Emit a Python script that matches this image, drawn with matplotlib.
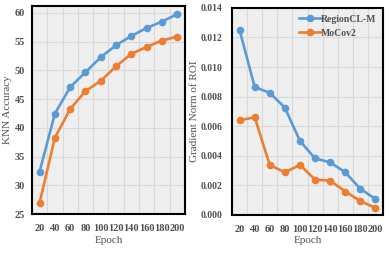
import matplotlib.pyplot as plt
import numpy as np

plt.rcParams['font.family'] = ['Liberation Serif', 'DejaVu Serif']
plt.rcParams['font.weight'] = 'bold'

epochs = ["20", "40", "60", "80", "100", "120", "140", "160", "180", "200"]

knn_regioncl = [32.4, 42.5, 47.1, 49.7, 52.3, 54.4, 56.0, 57.4, 58.5, 59.8]
knn_mocov2 = [27.0, 38.3, 43.3, 46.4, 48.2, 50.7, 52.9, 54.1, 55.2, 55.9]

grad_regioncl = [0.0125, 0.00865, 0.00825, 0.00725, 0.0050, 0.00382, 0.00355, 0.00288, 0.00176, 0.00108]
grad_mocov2 = [0.0064, 0.0066, 0.00337, 0.00288, 0.00338, 0.00238, 0.00232, 0.00158, 0.00093, 0.00047]

blue = "#5B9BD5"
orange = "#ED7D31"
txt = "#505050"
fs = 7.5

fig = plt.figure(figsize=(3.9, 2.54), dpi=100)
ax1 = fig.add_axes([0.082, 0.157, 0.392, 0.819])
ax2 = fig.add_axes([0.595, 0.154, 0.387, 0.815])

x = np.arange(len(epochs))


def style(ax, ypad):
    ax.set_facecolor("#EFEFEF")
    ax.set_xlim(-0.5, len(epochs) - 0.5)
    ax.set_xticks(x)
    ax.set_xticklabels(epochs)
    ax.set_xticks(np.arange(-0.5, len(epochs) - 0.4, 1), minor=True)
    ax.grid(True, which="minor", axis="x", color="#D9D9D9", linewidth=0.8)
    ax.grid(True, which="major", axis="y", color="#D9D9D9", linewidth=0.8)
    ax.set_axisbelow(True)
    ax.tick_params(which="both", length=0, labelsize=fs, colors=txt)
    ax.tick_params(axis="x", pad=7)
    ax.tick_params(axis="y", pad=ypad)
    for s in ax.spines.values():
        s.set_linewidth(1.5)
        s.set_color("black")
    ax.set_xlabel("Epoch", fontsize=fs + 0.5, color=txt, labelpad=2)


ax1.plot(x, knn_regioncl, color=blue, lw=1.9, marker="o", ms=4.5, label="RegionCL-M")
ax1.plot(x, knn_mocov2, color=orange, lw=1.9, marker="o", ms=4.5, label="MoCov2")
style(ax1, 5)
ax1.set_ylim(25, 61.2)
ax1.set_yticks(np.arange(25, 61, 5))
ax1.set_ylabel("KNN Accuracy", fontsize=fs + 0.5, color=txt, labelpad=2)

ax2.plot(x, grad_regioncl, color=blue, lw=1.9, marker="o", ms=4.5, label="RegionCL-M")
ax2.plot(x, grad_mocov2, color=orange, lw=1.9, marker="o", ms=4.5, label="MoCov2")
style(ax2, 7)
ax2.tick_params(axis="y", labelsize=7)
ax2.set_ylim(0, 0.014)
ax2.set_yticks(np.arange(0, 0.0141, 0.002))
ax2.set_yticklabels([f"{v:.3f}" for v in np.arange(0, 0.0141, 0.002)])
ax2.set_ylabel("Gradient Norm of ROI", fontsize=fs + 0.5, color=txt, labelpad=1)
ax2.legend(loc="upper right", frameon=False, fontsize=fs - 0.5, handlelength=2.2,
           handletextpad=0.0, borderaxespad=0.3, labelcolor=txt)

fig.savefig("out.png", dpi=100)
